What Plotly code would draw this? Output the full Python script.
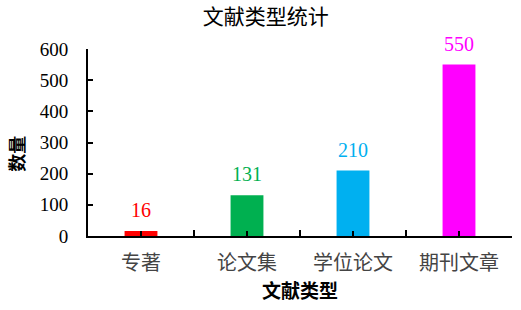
import plotly.graph_objects as go

categories = ["专著", "论文集", "学位论文", "期刊文章"]
values = [16, 131, 210, 550]
colors = ["#FF0000", "#00B050", "#00B0F0", "#FF00FF"]
y_ticks = [0, 100, 200, 300, 400, 500, 600]

xs = list(range(len(categories)))
fig = go.Figure()
fig.add_trace(go.Bar(x=xs, y=values, marker=dict(color=colors, line=dict(width=0)),
                     width=0.31, showlegend=False, hoverinfo="skip"))

for x, v, c in zip(xs, values, colors):
    fig.add_annotation(x=x, y=v, text=str(v), showarrow=False, yanchor="bottom", yshift=8,
                       font=dict(family="Liberation Serif", size=20, color=c))

fig.update_layout(
    width=521, height=310,
    margin=dict(l=88, r=9, t=49, b=74),
    paper_bgcolor="white", plot_bgcolor="white",
    title=dict(text="文献类型统计", x=0.51, xanchor="center", y=0.945, yanchor="middle",
               font=dict(family="Noto Sans CJK SC", size=21, color="#000")),
    xaxis=dict(range=[-0.5, 3.5], tickvals=xs, ticktext=categories, showline=True, linecolor="#000",
               linewidth=2, ticks="inside", ticklen=5, tickcolor="#000", tickwidth=1.5,
               tickfont=dict(family="Noto Sans CJK SC", size=20, color="#444"),
               ticklabelstandoff=8,
               minor=dict(tickvals=[0.5, 1.5, 2.5, 3.5], ticks="inside", ticklen=6, tickcolor="#000", tickwidth=1.5),
               showgrid=False, zeroline=False, fixedrange=True,
               title=dict(text="<b>文献类型</b>", standoff=8,
                          font=dict(family="Noto Sans CJK SC", size=19, color="#000"))),
    yaxis=dict(range=[0, 600], tickvals=y_ticks, showline=True, linecolor="#000", linewidth=2,
               ticks="inside", ticklen=5, tickcolor="#000", tickwidth=1.5,
               tickfont=dict(family="Liberation Serif", size=19, color="#000"),
               showgrid=False, zeroline=False, fixedrange=True, ticklabelstandoff=14),
)
fig.add_annotation(xref="paper", yref="paper", x=-0.170, y=0.44, xanchor="center", yanchor="middle",
                   text="<b>数量</b>", textangle=-90,
                   showarrow=False, font=dict(family="Noto Sans CJK SC", size=18, color="#000"))
fig.write_html("out.html")
